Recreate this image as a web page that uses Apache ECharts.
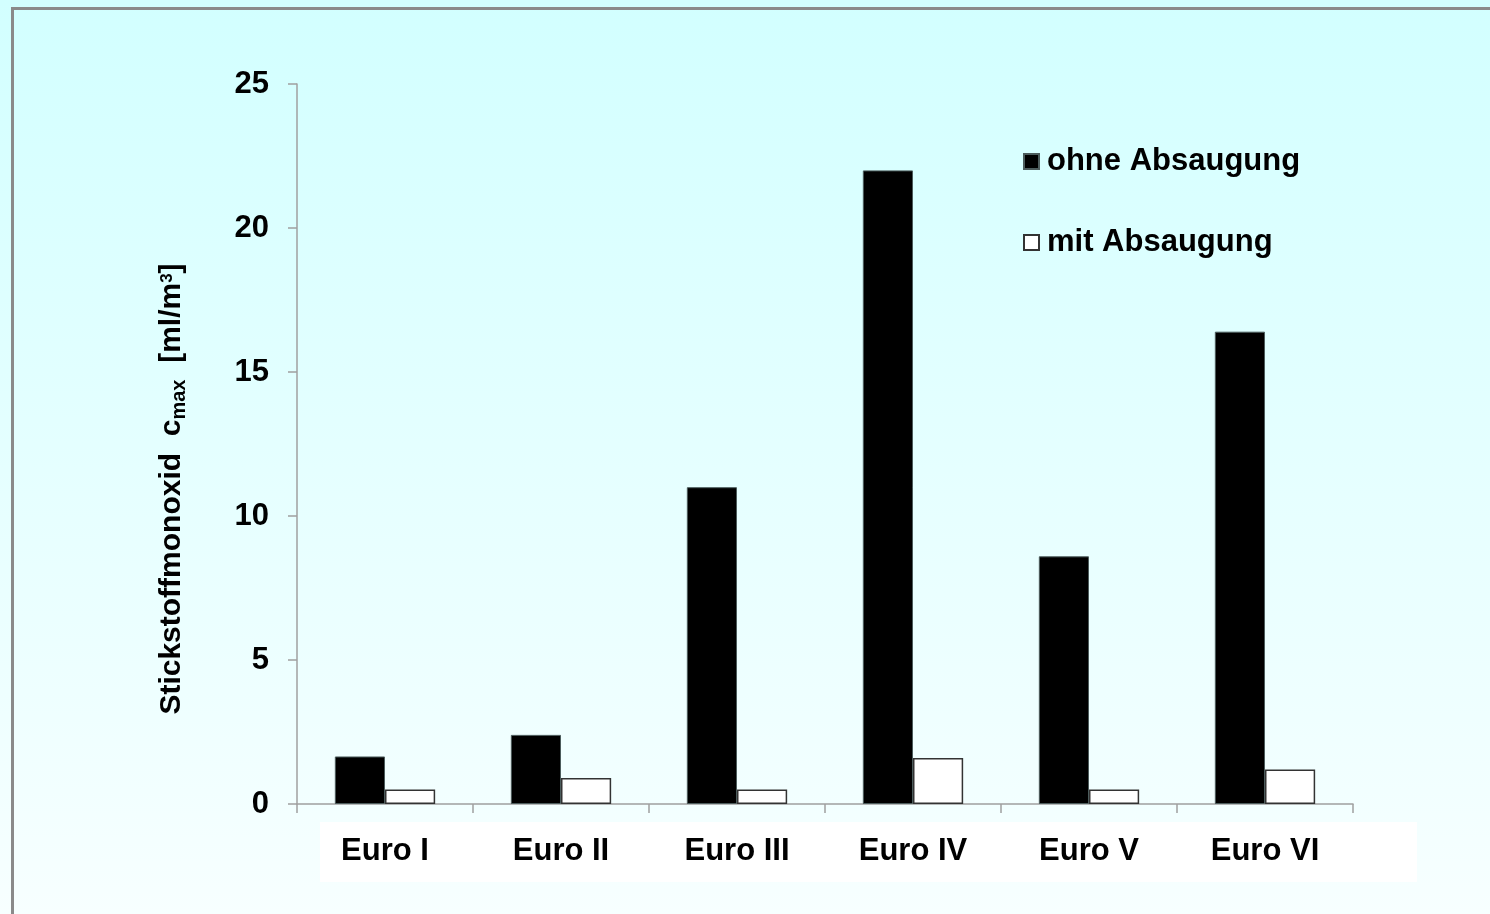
<!DOCTYPE html>
<html>
<head>
<meta charset="utf-8">
<script src="https://cdn.jsdelivr.net/npm/echarts@6/dist/echarts.min.js"></script>
<style>
  html, body { margin: 0; padding: 0; }
  #chart { width: 1490px; height: 914px; }
</style>
</head>
<body>
<div id="chart"></div>
<script>
// Euro emission classes
const categories = ['Euro I', 'Euro II', 'Euro III', 'Euro IV', 'Euro V', 'Euro VI'];
// Maximum NO concentration [ml/m³]
const ohneAbsaugung = [1.65, 2.4, 11.0, 22.0, 8.6, 16.4];
const mitAbsaugung = [0.5, 0.9, 0.5, 1.6, 0.5, 1.2];
const seriesNames = ['ohne Absaugung', 'mit Absaugung'];
const yMin = 0, yMax = 25, yStep = 5;

const FONT = '"Liberation Sans", Arial, sans-serif';
const chart = echarts.init(document.getElementById('chart'), null, { renderer: 'canvas' });

chart.setOption({
  animation: false,
  backgroundColor: 'transparent',
  graphic: [
    {
      type: 'rect', z: -100,
      shape: { x: 0, y: 0, width: 1490, height: 914 },
      style: {
        fill: new echarts.graphic.LinearGradient(0, 0, 0, 1, [
          { offset: 0, color: '#d2ffff' },
          { offset: 1, color: '#f7ffff' }
        ])
      }
    },
    {
      type: 'rect', z: -50,
      shape: { x: 320, y: 822, width: 1097, height: 60 },
      style: { fill: '#ffffff' }
    },
    {
      type: 'rect', z: 100,
      shape: { x: 12.5, y: 8.5, width: 1600, height: 1000 },
      style: { fill: 'none', stroke: '#8a8a8a', lineWidth: 3 }
    }
  ],
  legend: {
    orient: 'vertical',
    left: 1023,
    top: 146,
    padding: 0,
    itemWidth: 15,
    itemHeight: 15,
    itemGap: 50,
    icon: 'rect',
    selectedMode: false,
    textStyle: {
      fontFamily: FONT, fontSize: 31, fontWeight: 'bold', color: '#000',
      padding: [0, 0, 0, 3]
    },
    data: seriesNames
  },
  grid: { left: 297, right: 137, top: 84, bottom: 110, containLabel: false },
  xAxis: {
    type: 'category',
    data: categories,
    axisLine: { lineStyle: { color: '#a0a0a0', width: 1.5 } },
    axisTick: { show: true, length: 9, lineStyle: { color: '#a0a0a0', width: 1.5 } },
    axisLabel: { fontFamily: FONT, fontSize: 31, fontWeight: 'bold', color: '#000', margin: 32 }
  },
  yAxis: {
    type: 'value',
    min: yMin, max: yMax, interval: yStep,
    splitLine: { show: false },
    axisLine: { show: true, lineStyle: { color: '#a0a0a0', width: 1.5 } },
    axisTick: { show: true, length: 9, lineStyle: { color: '#a0a0a0', width: 1.5 } },
    axisLabel: { fontFamily: FONT, fontSize: 31, fontWeight: 'bold', color: '#000', margin: 28 },
    name: 'Stickstoffmonoxid  c{sub|max}  [ml/m{sup|3}]',
    nameLocation: 'middle',
    nameGap: 108,
    nameRotate: 90,
    nameTextStyle: {
      fontFamily: FONT, fontSize: 30, fontWeight: 'bold', color: '#000',
      padding: [0, 90, 0, 0],
      rich: {
        sub: { fontFamily: FONT, fontSize: 20, color: '#000', padding: [14, 0, 0, 0] },
        sup: { fontFamily: FONT, fontSize: 17, color: '#000', padding: [0, 0, 10, 0] }
      }
    }
  },
  series: [
    {
      name: seriesNames[0], type: 'bar', data: ohneAbsaugung,
      barGap: '0%', barCategoryGap: '43%',
      itemStyle: { color: '#000000', borderColor: '#4c5c5c', borderWidth: 1 }
    },
    {
      name: seriesNames[1], type: 'bar', data: mitAbsaugung,
      barGap: '0%', barCategoryGap: '43%',
      itemStyle: { color: '#ffffff', borderColor: '#333333', borderWidth: 1.5 }
    }
  ]
});
</script>
</body>
</html>
